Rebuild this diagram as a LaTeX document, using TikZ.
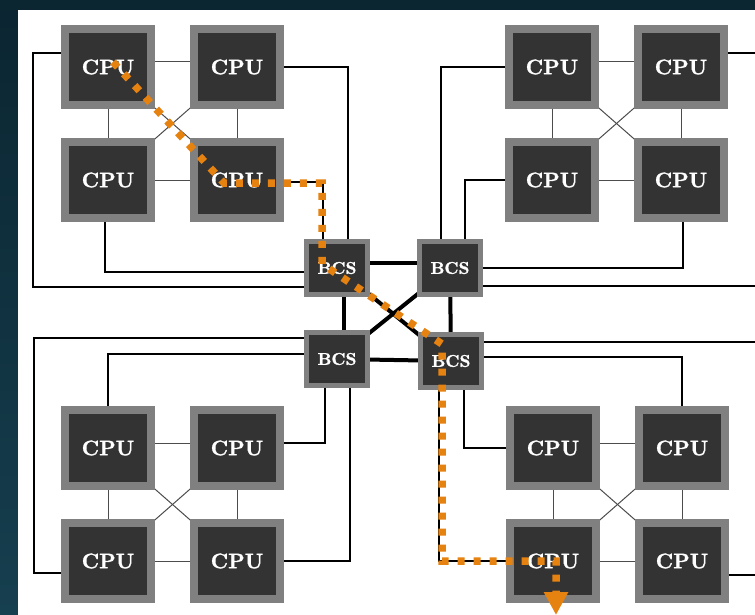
\documentclass[tikz,border=0pt]{standalone}
\usepackage{fontspec}
\newfontfamily\chipfont{lmroman10-bold.otf}[FakeBold=1.5]
\usetikzlibrary{backgrounds,arrows.meta}
\definecolor{chipgray}{HTML}{808080}
\definecolor{chipdark}{HTML}{333333}
\definecolor{pathorange}{HTML}{E6820F}
\definecolor{frametop}{HTML}{0B2531}
\definecolor{framebottom}{HTML}{163F4F}
\tikzset{
  cpu/.style={draw=chipgray, fill=chipdark, line width=7.5pt, minimum width=86pt,
    minimum height=76pt, inner sep=0pt, text=white, font=\chipfont\fontsize{21}{21}\selectfont},
  bcs/.style={draw=chipgray, fill=chipdark, line width=5pt, minimum width=61pt,
    minimum height=53pt, inner sep=0pt, text=white, font=\chipfont\fontsize{17}{17}\selectfont},
  link/.style={black!70, line width=1pt},
  wire/.style={black, line width=1.6pt},
  trunk/.style={black, line width=4pt},
  route/.style={pathorange, line width=7.5pt, dash pattern=on 7pt off 9pt,
    -{Triangle[length=23pt,width=23pt]}}
}
\begin{document}
\begin{tikzpicture}[x=1pt,y=-1pt]
    \useasboundingbox (0,0) rectangle (755,615);
    \foreach \q/\x/\y in {a/108/67,b/552/67,c/108/448,d/553/448}{
      \node[cpu] (\q1) at (\x,\y) {CPU};
      \node[cpu] (\q2) at (\x+129,\y) {CPU};
      \node[cpu] (\q3) at (\x,\y+113) {CPU};
      \node[cpu] (\q4) at (\x+129,\y+113) {CPU};
    }
    \node[bcs] (s1) at (337,268) {BCS};
    \node[bcs] (s2) at (450,268) {BCS};
    \node[bcs] (s3) at (337,359) {BCS};
    \node[bcs] (s4) at (451,361) {BCS};
    \begin{scope}[on background layer]
      \shade[top color=frametop, bottom color=framebottom] (0,0) rectangle (755,615);
      \fill[white] (18,10) rectangle (755,615);
      % links inside each group of four
      \foreach \q in {a,b,c,d}{
        \draw[link] ([yshift=5pt]\q1.center) -- ([yshift=5pt]\q2.center);
        \draw[link] (\q3) -- (\q4);
        \draw[link] (\q1) -- (\q3);
        \draw[link] (\q2) -- (\q4);
        \draw[link] (\q1) -- (\q4);
        \draw[link] (\q2) -- (\q3);
      }
      % groups to their BCS
      \draw[wire] ([yshift=14pt]a1.west) -- ++(-28,0) |- ([yshift=-19pt]s1.west);
      \draw[wire] ([xshift=-3pt]a3.south) |- ([yshift=-4pt]s1.west);
      \draw[wire] (a2.east) -| ([xshift=11pt]s1.north);
      \draw[wire] ([yshift=-2pt]a4.east) -| ([xshift=-14pt]s1.north);
      \draw[wire] (b1.west) -| ([xshift=-9pt]s2.north);
      \draw[wire] (b3.west) -| ([xshift=15pt]s2.north);
      \draw[wire] ([xshift=2pt]b4.south) |- (s2.east);
      \draw[wire] ([yshift=14pt]b2.east) -- ++(28,0) |- ([yshift=-18pt]s2.east);
      \draw[wire] ([yshift=-12pt]c3.west) -- ++(-27,0) |- ([yshift=21pt]s3.west);
      \draw[wire] ([yshift=5pt]s3.west) -| (c1.north);
      \draw[wire] ([xshift=-12pt]s3.south) |- ([yshift=5pt]c2.east);
      \draw[wire] ([xshift=13pt]s3.south) |- (c4.east);
      \draw[wire] ([yshift=-14pt]d4.east) -- ++(27,0) |- ([yshift=19pt]s4.east);
      \draw[wire] ([yshift=4pt]s4.east) -| (d2.north);
      \draw[wire] ([xshift=13pt]s4.south) |- (d1.west);
      \draw[wire] ([xshift=-12pt]s4.south) |- (d3.west);
      % BCS crossbar
      \draw[trunk] ([yshift=5pt]s1.center) -- ([yshift=5pt]s2.center);
      \draw[trunk] (s3.center) -- (s4.center);
      \draw[trunk] ([xshift=7pt]s1.center) -- ([xshift=7pt]s3.center);
      \draw[trunk] (s2.center) -- (s4.center);
      \draw[trunk] (s1.center) -- (s4.center);
      \draw[trunk] (s2.center) -- (s3.center);
    \end{scope}
    \draw[route] ([shift={(5,-5)}]a1.center) -- ([shift={(-13,3)}]a4.center)
      -| ([shift={(-15,-4)}]s1.center) -- ([shift={(-9,-17)}]s4.center)
      |- ([xshift=3pt]d3.center) -- ++(0,54);
  \end{tikzpicture}
\end{document}
